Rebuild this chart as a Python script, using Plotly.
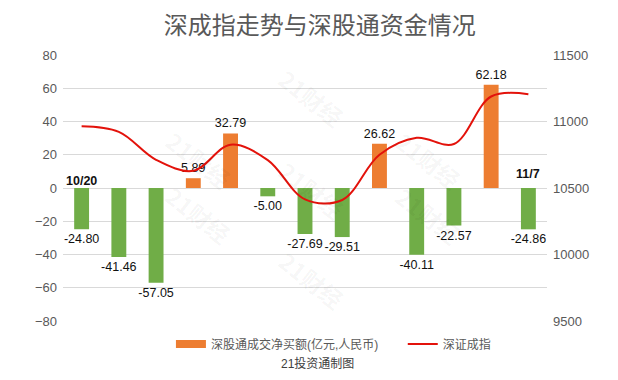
import plotly.graph_objects as go

dates = ["10/20", "10/23", "10/24", "10/25", "10/26", "10/27", "10/30",
         "10/31", "11/1", "11/2", "11/3", "11/6", "11/7"]
net_buy = [-24.80, -41.46, -57.05, 5.89, 32.79, -5.00, -27.69,
           -29.51, 26.62, -40.11, -22.57, 62.18, -24.86]
szci = [10964, 10922, 10712, 10629, 10826, 10710, 10415,
        10410, 10750, 10877, 10831, 11188, 11205]
left_ticks = [-80, -60, -40, -20, 0, 20, 40, 60, 80]
right_ticks = [9500, 10000, 10500, 11000, 11500]

ORANGE = "#ED7D31"
GREEN = "#70AD47"
RED = "#E3120B"
FONT = "Liberation Sans, Arial, Noto Sans CJK SC"
BAR_NAME = "深股通成交净买额(亿元,人民币)"

pos_vals = [v if v >= 0 else None for v in net_buy]
neg_vals = [v if v < 0 else None for v in net_buy]

fig = go.Figure()
for vals, col in ((pos_vals, ORANGE), (neg_vals, GREEN)):
    fig.add_trace(go.Bar(
        x=dates, y=vals, showlegend=False, name=BAR_NAME,
        marker=dict(color=col, line=dict(width=0)),
        text=[f"{v:.2f}" if v is not None else "" for v in vals],
        textposition="outside", constraintext="none",
        textfont=dict(size=12.5, color="#111111", family=FONT),
        cliponaxis=False, width=0.4, yaxis="y",
    ))
# legend entry for the bars (wide orange swatch like the reference)
fig.add_trace(go.Scatter(
    x=[None], y=[None], mode="lines", name=BAR_NAME, legend="legend",
    line=dict(color=ORANGE, width=8), yaxis="y",
))
fig.add_trace(go.Scatter(
    x=dates, y=szci, name="深证成指", mode="lines", legend="legend2",
    line=dict(color=RED, width=2, shape="spline", smoothing=1.0),
    yaxis="y2",
))

fig.add_annotation(x=dates[0], y=0, xref="x", yref="y", text="<b>10/20</b>",
                   showarrow=False, yanchor="bottom", yshift=-2,
                   font=dict(size=12.5, color="#111111", family=FONT))
fig.add_annotation(x=dates[-1], y=0, xref="x", yref="y", text="<b>11/7</b>",
                   showarrow=False, yanchor="bottom", yshift=5,
                   font=dict(size=12.5, color="#111111", family=FONT))
fig.add_annotation(x=0.525, y=-0.158, xref="paper", yref="paper",
                   text="21投资通制图", showarrow=False, yanchor="middle",
                   font=dict(size=12, color="#404040", family=FONT))

# faint "21财经" watermarks
wm_x = [0.194, 0.194, 0.514, 0.514, 0.514, 0.841, 0.841]
wm_y = [0.75, 0.254, 0.985, 0.492, 0.008, 0.75, 0.254]
for wx, wy in zip(wm_x, wm_y):
    fig.add_annotation(x=wx, y=wy, xref="paper", yref="paper", text="<b>21财经</b>",
                       showarrow=False, textangle=38,
                       font=dict(size=23, color="rgba(0,0,0,0.045)",
                                 family="Noto Sans CJK SC"))

leg_common = dict(orientation="h", xanchor="left", y=-0.086, yanchor="middle",
                  font=dict(size=12, color="#595959"), bgcolor="rgba(0,0,0,0)")

fig.update_layout(
    width=610, height=372,
    margin=dict(l=55, r=71, t=47, b=59),
    paper_bgcolor="white", plot_bgcolor="white",
    title=dict(text="深成指走势与深股通资金情况", x=0.511, xanchor="center",
               y=0.952, yanchor="middle",
               font=dict(size=24, color="#595959", family="Noto Sans CJK SC")),
    font=dict(family=FONT, color="#595959", size=12),
    showlegend=True,
    legend=dict(x=0.223, **leg_common),
    legend2=dict(x=0.702, **leg_common),
    barmode="overlay",
    xaxis=dict(type="category", showticklabels=False, showgrid=False,
               zeroline=False, showline=False, ticks=""),
    yaxis=dict(range=[-80, 80], tickvals=left_ticks, showgrid=True,
               gridcolor="#D9D9D9", gridwidth=1, zeroline=True,
               zerolinecolor="#D9D9D9", zerolinewidth=1,
               tickfont=dict(size=13, color="#595959"), ticks="",
               ticklabelstandoff=5, showline=False),
    yaxis2=dict(range=[9500, 11500], tickvals=right_ticks, tickformat="d",
                overlaying="y", side="right", showgrid=False, zeroline=False,
                tickfont=dict(size=13, color="#595959"), ticks="",
                ticklabelstandoff=5, showline=False),
)

fig.write_html("out.html")
